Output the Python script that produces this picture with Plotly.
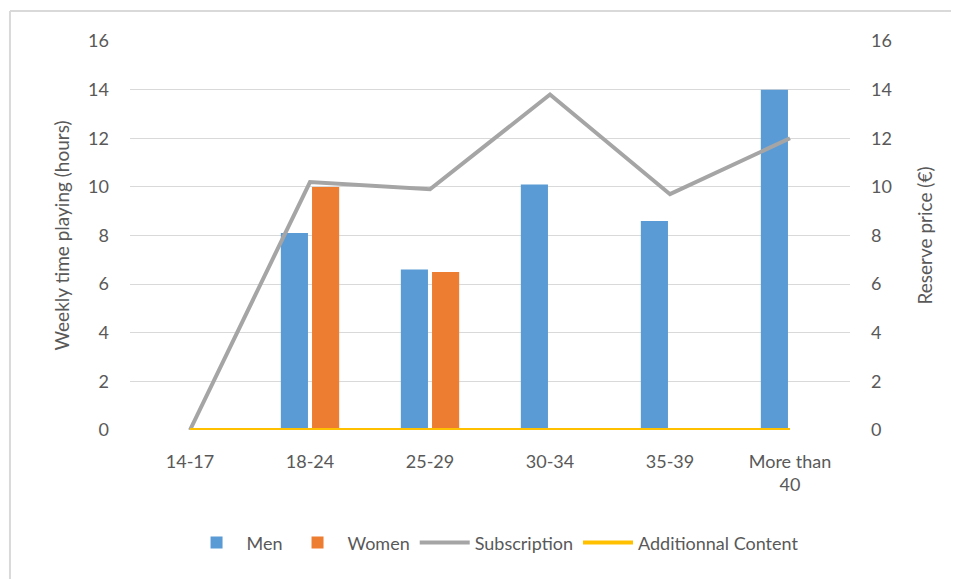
import plotly.graph_objects as go

categories = ["14-17", "18-24", "25-29", "30-34", "35-39", "More than<br>40"]
men = [0, 8.1, 6.6, 10.1, 8.6, 14.0]
women = [0, 10.0, 6.5, 0, 0, 0]
subscription = [0, 10.2, 9.9, 13.8, 9.7, 12.0]
additional = [0, 0, 0, 0, 0, 0]
ticks = [0, 2, 4, 6, 8, 10, 12, 14, 16]

font_family = "Lato, Open Sans, DejaVu Sans, sans-serif"
txt = "#595959"

fig = go.Figure()
fig.add_trace(go.Bar(x=categories, y=men, name="Men", marker=dict(color="#5B9BD5", line=dict(width=0))))
fig.add_trace(go.Bar(x=categories, y=women, name="Women", marker=dict(color="#ED7D31", line=dict(width=0))))
fig.add_trace(go.Scatter(x=categories, y=subscription, name="Subscription", mode="lines",
                         line=dict(color="#A5A5A5", width=4), yaxis="y2"))
fig.add_trace(go.Scatter(x=categories, y=additional, name="Additionnal Content", mode="lines",
                         line=dict(color="#FFC000", width=4), yaxis="y2"))

border = dict(color="#D9D9D9", width=2)
fig.update_layout(
    width=951, height=571,
    margin=dict(l=122, r=109, t=33, b=149, autoexpand=False),
    paper_bgcolor="white", plot_bgcolor="white",
    font=dict(family=font_family, size=18, color=txt),
    barmode="group", bargap=0.48, bargroupgap=0.13,
    xaxis=dict(range=[-0.5, 5.5], showgrid=False, showline=False, ticks="", automargin=False,
               ticklabelstandoff=19, tickfont=dict(size=18, color=txt)),
    yaxis=dict(range=[0, 16], tickvals=ticks, showgrid=True, gridcolor="#D9D9D9", gridwidth=1,
               zeroline=False, showline=False, ticks="", ticklabelstandoff=20, automargin=False,
               tickfont=dict(size=18, color=txt),
               title=dict(text="Weekly time playing (hours)", font=dict(size=19, color=txt), standoff=13)),
    yaxis2=dict(range=[0, 16], tickvals=ticks, overlaying="y", side="right", showgrid=False,
                zeroline=False, showline=False, ticks="", ticklabelstandoff=20, automargin=False,
                tickfont=dict(size=18, color=txt),
                title=dict(text="Reserve price (€)", font=dict(size=19, color=txt), standoff=27)),
    legend=dict(orientation="h", x=0.507, xanchor="center", y=-0.29, yanchor="middle",
                font=dict(size=18, color=txt), itemwidth=50, traceorder="normal"),
    shapes=[
        dict(type="line", xref="paper", yref="paper", x0=-0.1667, x1=1.3, y0=1.0771, y1=1.0771,
             line=border, layer="below"),
        dict(type="line", xref="paper", yref="paper", x0=-0.1667, x1=-0.1667, y0=-0.45, y1=1.0771,
             line=border, layer="below"),
    ],
)

fig.write_html("out.html")
